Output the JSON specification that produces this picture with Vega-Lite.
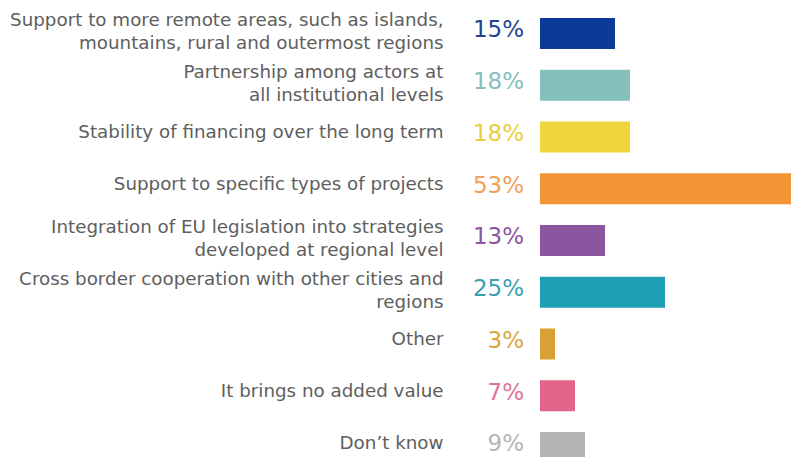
{
  "$schema": "https://vega.github.io/schema/vega-lite/v6.json",
  "autosize": "none",
  "width": 251,
  "height": 465.75,
  "padding": {"left": 540, "top": 7.6, "right": 0, "bottom": 0},
  "background": "white",
  "config": {"view": {"stroke": null}, "font": "DejaVu Sans"},
  "data": {"values": [
    {"cat": "Support to more remote areas, such as islands,|mountains, rural and outermost regions", "pct": 15, "label": "15%", "color": "#0b3a99", "tcolor": "#23448f"},
    {"cat": "Partnership among actors at|all institutional levels", "pct": 18, "label": "18%", "color": "#86c0bd", "tcolor": "#86c0bd"},
    {"cat": "Stability of financing over the long term", "pct": 18, "label": "18%", "color": "#efd63c", "tcolor": "#e9cf3a"},
    {"cat": "Support to specific types of projects", "pct": 53, "label": "53%", "color": "#f39435", "tcolor": "#f0a05a"},
    {"cat": "Integration of EU legislation into strategies|developed at regional level", "pct": 13, "label": "13%", "color": "#8d549f", "tcolor": "#8d549f"},
    {"cat": "Cross border cooperation with other cities and|regions", "pct": 25, "label": "25%", "color": "#1f9fb3", "tcolor": "#3a9fb0"},
    {"cat": "Other", "pct": 3, "label": "3%", "color": "#daa035", "tcolor": "#dba53e"},
    {"cat": "It brings no added value", "pct": 7, "label": "7%", "color": "#e5648a", "tcolor": "#e2729a"},
    {"cat": "Don’t know", "pct": 9, "label": "9%", "color": "#b3b3b3", "tcolor": "#b5b5b5"}
  ]},
  "encoding": {
    "y": {
      "field": "cat", "type": "nominal", "sort": null, "title": null,
      "scale": {"paddingInner": 0.4, "paddingOuter": 0.2},
      "axis": {
        "domain": false, "ticks": false, "labelPadding": 97,
        "labelExpr": "split(datum.label, '|')",
        "labelFont": "DejaVu Sans", "labelFontSize": 18.3, "labelColor": "#5e5e5e",
        "labelLineHeight": 23, "labelLimit": 600,
        "labelOffset": {"condition": {"test": "indexof(datum.label, '|') >= 0", "value": -12.5}, "value": -3.5}
      }
    }
  },
  "layer": [
    {
      "mark": {"type": "bar", "clip": true},
      "encoding": {
        "x": {"field": "pct", "type": "quantitative", "scale": {"domain": [0, 50.2], "nice": false}, "axis": null},
        "color": {"field": "color", "type": "nominal", "scale": null}
      }
    },
    {
      "mark": {"type": "text", "align": "right", "baseline": "middle", "dx": -16, "dy": -3, "fontSize": 23, "font": "DejaVu Sans"},
      "encoding": {
        "x": {"datum": 0, "type": "quantitative"},
        "text": {"field": "label", "type": "nominal"},
        "color": {"field": "tcolor", "type": "nominal", "scale": null}
      }
    }
  ]
}
